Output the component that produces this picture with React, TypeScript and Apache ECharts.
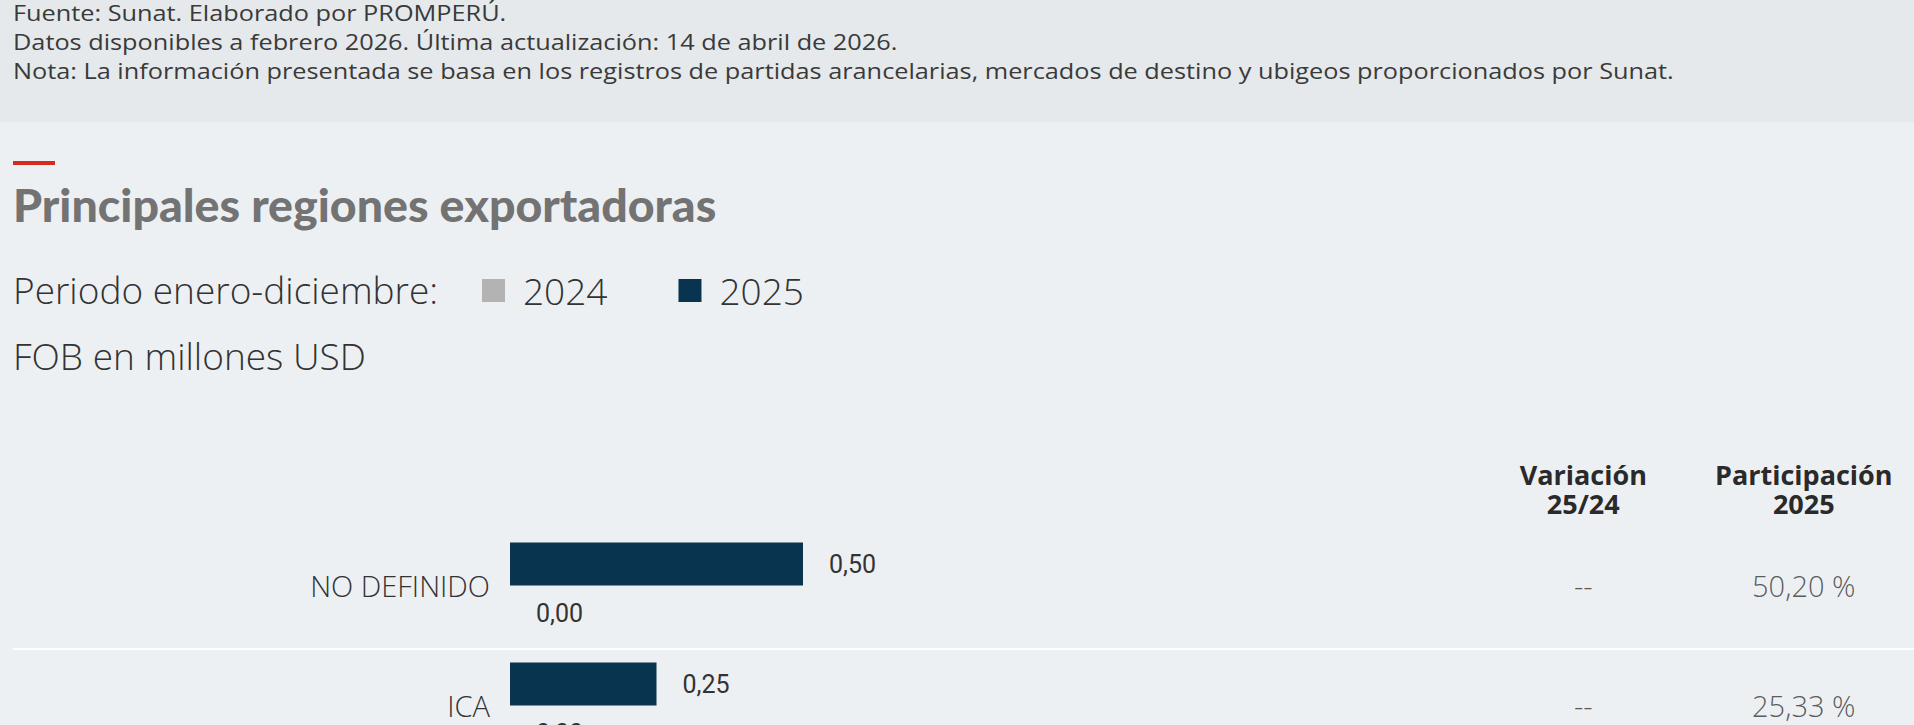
import React, { useEffect, useRef } from 'react';
import * as echarts from 'echarts';

const noteLines = [
  'Fuente: Sunat. Elaborado por PROMPERÚ.',
  'Datos disponibles a febrero 2026. Última actualización: 14 de abril de 2026.',
  'Nota: La información presentada se basa en los registros de partidas arancelarias, mercados de destino y ubigeos proporcionados por Sunat.',
];
const titleText = 'Principales regiones exportadoras';
const periodLabel = 'Periodo enero-diciembre:';
const unitLabel = 'FOB en millones USD';
const regions = ['NO DEFINIDO', 'ICA'];
const seriesNames = ['2024', '2025'];
const values2024 = [0.0, 0.0];
const values2025 = [0.5, 0.25];
const variation = ['--', '--'];
const share2025 = ['50,20 %', '25,33 %'];
const headerLine1 = ['Variación', 'Participación'];
const headerLine2 = ['25/24', '2025'];

const OPEN = "'Open Sans', sans-serif";
const fmt = (v: number) => v.toFixed(2).replace('.', ',');

export default function App() {
  const ref = useRef<HTMLDivElement>(null);
  useEffect(() => {
    if (!ref.current) return;
    const chart = echarts.init(ref.current, undefined, { renderer: 'svg' });
    const tableData: any[] = [];
    regions.forEach((_, i) => {
      tableData.push([0, i, variation[i]]);
      tableData.push([1, i, share2025[i]]);
    });
    const barLabel = {
      show: true,
      position: 'right',
      distance: 26,
      fontFamily: 'Roboto, sans-serif',
      fontSize: 25,
      color: '#333333',
      formatter: (p: any) => fmt(p.value),
    };
    const headerAxis = (data: string[], margin: number) => ({
      type: 'category',
      gridIndex: 2,
      position: 'top',
      data,
      axisLine: { show: false },
      axisTick: { show: false },
      splitLine: { show: false },
      axisLabel: { interval: 0, margin, fontFamily: OPEN, fontSize: 27, fontWeight: 700, color: '#2a2a2a', align: 'center' },
    });
    chart.setOption({
      animation: false,
      backgroundColor: '#edf0f3',
      graphic: [
        { type: 'rect', z: -10, shape: { x: 0, y: 0, width: 1914, height: 122 }, style: { fill: '#e5e9eb' } },
        ...noteLines.map((t, i) => ({
          type: 'text',
          x: 13,
          y: 12.5 + i * 29,
          scaleX: 1.15,
          style: { text: t, fontFamily: OPEN, fontSize: 22, fontWeight: 400, fill: '#3a3a3a', verticalAlign: 'middle' },
        })),
        { type: 'rect', shape: { x: 13, y: 161, width: 42, height: 4 }, style: { fill: '#d52b1e' } },
        {
          type: 'text',
          x: 13,
          y: 204,
          style: { text: titleText, fontFamily: 'Lato, sans-serif', fontSize: 46.5, fontWeight: 900, fill: '#737373', verticalAlign: 'middle' },
        },
        {
          type: 'text',
          x: 13,
          y: 289.5,
          style: { text: periodLabel, fontFamily: OPEN, fontSize: 37, fontWeight: 300, fill: '#333333', verticalAlign: 'middle' },
        },
        {
          type: 'text',
          x: 13,
          y: 355.5,
          style: { text: unitLabel, fontFamily: OPEN, fontSize: 37, fontWeight: 300, fill: '#333333', verticalAlign: 'middle' },
        },
      ],
      legend: {
        data: seriesNames,
        left: 482,
        top: 272,
        padding: 0,
        orient: 'horizontal',
        icon: 'rect',
        itemWidth: 23,
        itemHeight: 23,
        itemGap: 71,
        selectedMode: false,
        textStyle: { fontFamily: OPEN, fontSize: 37, fontWeight: 300, color: '#333333', padding: [0, 0, 0, 13] },
      },
      grid: [
        { left: 510, top: 529, width: 879, height: 240 },
        { left: 13, right: 0, top: 529, height: 240 },
        { left: 1473, width: 452, top: 529, height: 240 },
      ],
      xAxis: [
        { type: 'value', gridIndex: 0, min: 0, max: 1.5, show: false },
        { type: 'value', gridIndex: 1, min: 0, max: 1, show: false },
        headerAxis(headerLine1, 41),
        headerAxis(headerLine2, 12),
      ],
      yAxis: [
        {
          type: 'category',
          gridIndex: 0,
          data: regions,
          inverse: true,
          axisLine: { show: false },
          axisTick: { show: false },
          splitLine: { show: false },
          axisLabel: { margin: 20, verticalAlign: 'bottom', lineHeight: 8, fontFamily: OPEN, fontSize: 29, fontWeight: 300, color: '#333333' },
        },
        {
          type: 'category',
          gridIndex: 1,
          data: regions,
          inverse: true,
          axisLine: { show: false },
          axisTick: { show: false },
          axisLabel: { show: false },
          splitLine: { show: true, showMinLine: false, lineStyle: { color: '#ffffff', width: 2 } },
        },
        {
          type: 'category',
          gridIndex: 2,
          data: regions,
          inverse: true,
          show: false,
        },
      ],
      series: [
        {
          name: '2025',
          type: 'bar',
          xAxisIndex: 0,
          yAxisIndex: 0,
          data: values2025,
          barWidth: 43,
          barGap: '16%',
          itemStyle: { color: '#08344f' },
          label: barLabel,
        },
        {
          name: '2024',
          type: 'bar',
          xAxisIndex: 0,
          yAxisIndex: 0,
          data: values2024,
          barWidth: 43,
          barGap: '16%',
          itemStyle: { color: '#b3b3b3' },
          label: barLabel,
        },
        {
          type: 'scatter',
          xAxisIndex: 2,
          yAxisIndex: 2,
          data: tableData,
          symbolSize: 1,
          itemStyle: { color: 'rgba(0,0,0,0)' },
          label: {
            show: true,
            position: 'inside',
            offset: [0, -4],
            fontFamily: OPEN,
            fontSize: 29,
            fontWeight: 300,
            color: '#333333',
            formatter: (p: any) => p.data[2],
          },
          silent: true,
        },
      ],
    });
    return () => chart.dispose();
  }, []);
  return (
    <div style={{ position: 'fixed', left: 0, top: 0, width: 1914, height: 725, overflow: 'hidden' }}>
      <div ref={ref} style={{ width: 1914, height: 800 }} />
    </div>
  );
}
